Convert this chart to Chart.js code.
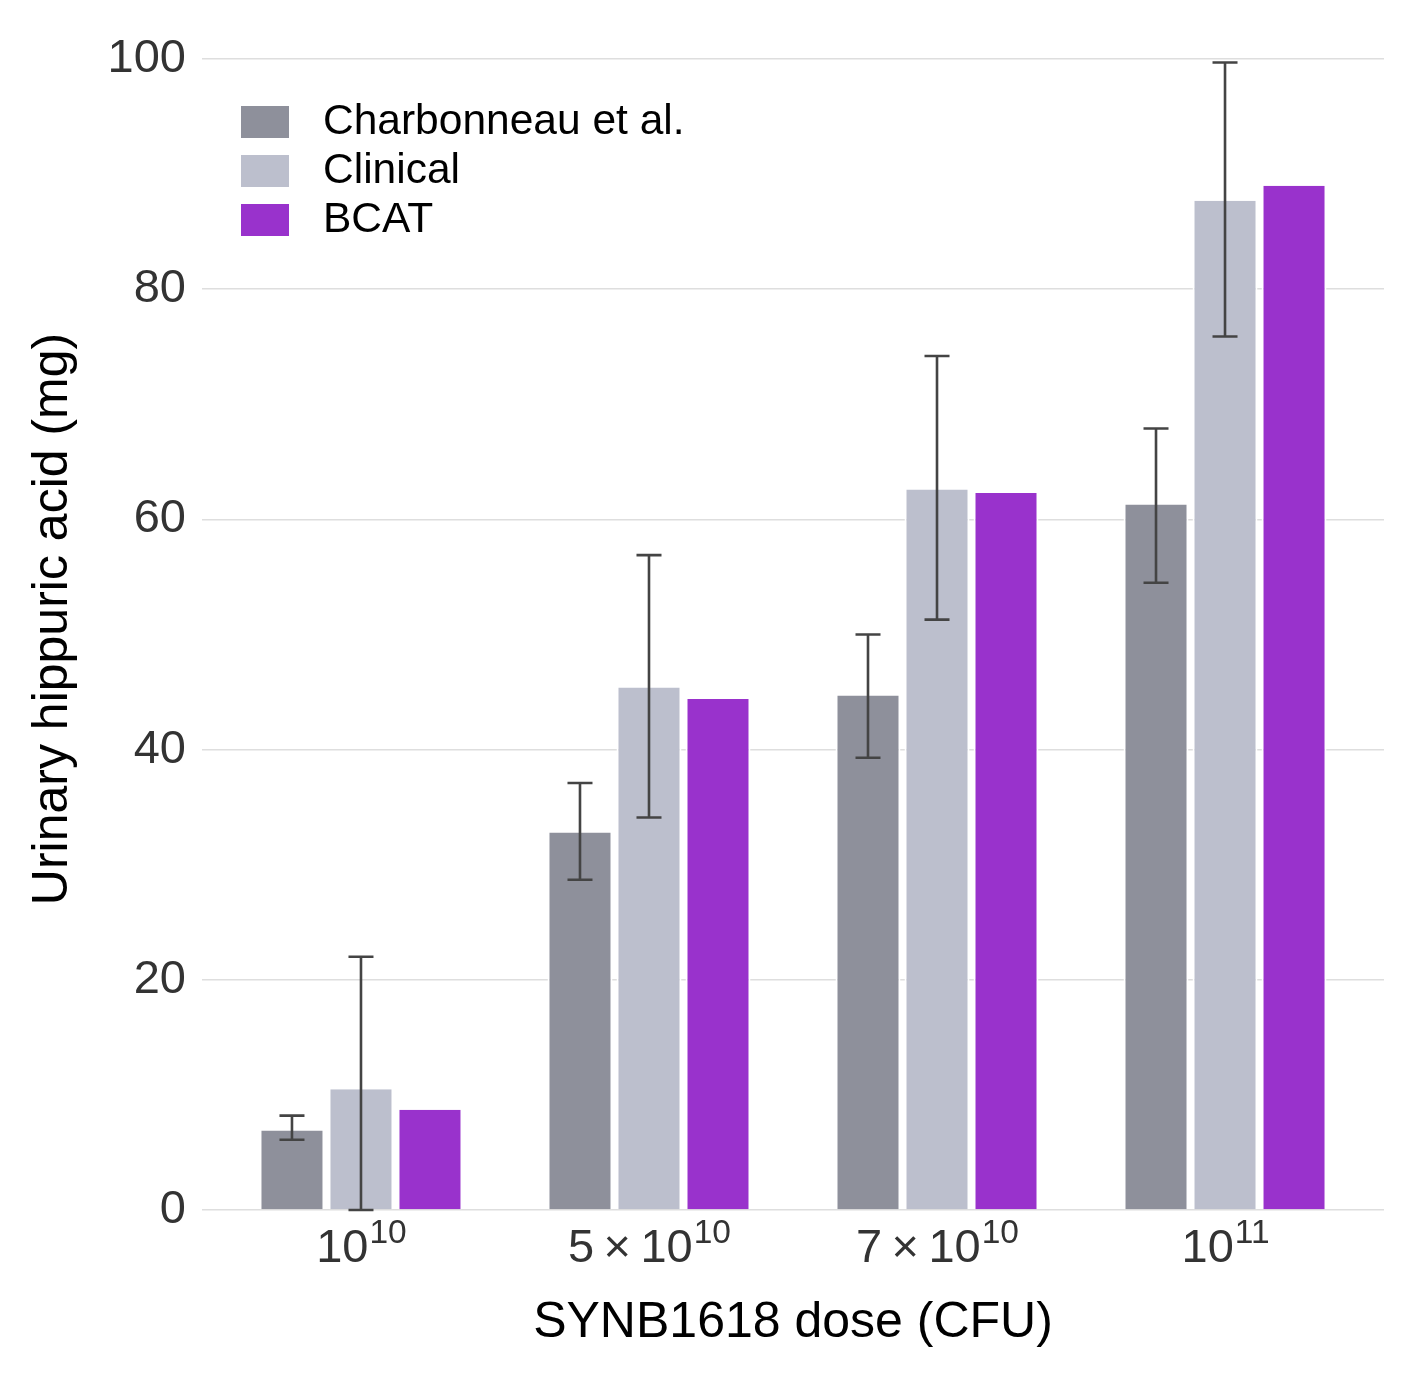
<!DOCTYPE html>
<html>
<head>
<meta charset="utf-8">
<script src="https://cdn.jsdelivr.net/npm/chart.js@4.4.1/dist/chart.umd.min.js"></script>
<style>
  html, body { margin: 0; padding: 0; background: #fff; }
</style>
</head>
<body>
<canvas id="chart" width="1414" height="1385"></canvas>
<script>
// Dosis (posisi kategori) dan label sumbu x: basis + pangkat
var doses = [1, 2, 3, 4];
var doseBase = ['10', '5\u2009\u00d7\u200910', '7\u2009\u00d7\u200910', '10'];
var doseExp = ['10', '10', '10', '11'];

var seriesNames = ['Charbonneau et al.', 'Clinical', 'BCAT'];
var seriesColors = ['#8e909b', '#bcbfcd', '#9932cc'];

// Nilai rata-rata dan batas error bar
var charbonneau = [6.9, 32.8, 44.7, 61.3];
var charbonneauLo = [6.1, 28.7, 39.3, 54.5];
var charbonneauHi = [8.2, 37.1, 50.0, 67.9];

var clinical = [10.5, 45.4, 62.6, 87.7];
var clinicalLo = [0, 34.1, 51.3, 75.9];
var clinicalHi = [22.0, 56.9, 74.2, 99.7];

var bcat = [8.7, 44.4, 62.3, 89.0];

var yTicks = [0, 20, 40, 60, 80, 100];

var FONT = "'Liberation Sans', Arial, sans-serif";
Chart.defaults.font.family = FONT;

function points(vals) {
  return vals.map(function (v, i) { return { x: doses[i], y: v }; });
}

function makeSet(idx, vals, lo, hi) {
  return {
    label: seriesNames[idx],
    data: points(vals),
    backgroundColor: seriesColors[idx],
    borderColor: '#ffffff',
    borderWidth: { left: 2, right: 2, top: 0, bottom: 0 },
    borderSkipped: false,
    categoryPercentage: 0.71875,
    barPercentage: 0.942,
    errLo: lo,
    errHi: hi
  };
}

// Error bar
var errorBars = {
  id: 'errorBars',
  afterDatasetsDraw: function (chart) {
    var ctx = chart.ctx, y = chart.scales.y;
    ctx.save();
    ctx.strokeStyle = '#444444';
    ctx.lineWidth = 2.6;
    chart.data.datasets.forEach(function (ds, i) {
      if (!ds.errLo) return;
      chart.getDatasetMeta(i).data.forEach(function (bar, j) {
        var top = y.getPixelForValue(ds.errHi[j]);
        var bot = y.getPixelForValue(ds.errLo[j]);
        var cap = 12.5;
        ctx.beginPath();
        ctx.moveTo(bar.x, top); ctx.lineTo(bar.x, bot);
        ctx.moveTo(bar.x - cap, top); ctx.lineTo(bar.x + cap, top);
        ctx.moveTo(bar.x - cap, bot); ctx.lineTo(bar.x + cap, bot);
        ctx.stroke();
      });
    });
    ctx.restore();
  }
};

// Label sumbu x dengan pangkat (superscript)
var doseLabels = {
  id: 'doseLabels',
  afterDraw: function (chart) {
    var ctx = chart.ctx, x = chart.scales.x;
    var baseY = chart.chartArea.bottom + 52;
    ctx.save();
    ctx.fillStyle = '#333333';
    ctx.textBaseline = 'alphabetic';
    ctx.textAlign = 'left';
    doses.forEach(function (d, i) {
      var cx = x.getPixelForValue(d);
      ctx.font = '47px ' + FONT;
      var wb = ctx.measureText(doseBase[i]).width;
      ctx.font = '33.5px ' + FONT;
      var we = ctx.measureText(doseExp[i]).width;
      var start = cx - (wb + we) / 2;
      ctx.font = '47px ' + FONT;
      ctx.fillText(doseBase[i], start, baseY);
      ctx.font = '33.5px ' + FONT;
      ctx.fillText(doseExp[i], start + wb + 1, baseY - 19);
    });
    ctx.restore();
  }
};

// Legenda di dalam area plot
var insetLegend = {
  id: 'insetLegend',
  afterDraw: function (chart) {
    var ctx = chart.ctx, area = chart.chartArea;
    var x0 = area.left + 39, y0 = area.top + 78;
    ctx.save();
    ctx.font = '42.5px ' + FONT;
    ctx.textBaseline = 'middle';
    ctx.textAlign = 'left';
    chart.data.datasets.forEach(function (ds, i) {
      var yy = y0 + i * 49;
      ctx.fillStyle = ds.backgroundColor;
      ctx.fillRect(x0, yy, 48, 32);
      ctx.fillStyle = '#000000';
      ctx.fillText(ds.label, x0 + 82, yy + 16);
    });
    ctx.restore();
  }
};

new Chart(document.getElementById('chart'), {
  type: 'bar',
  data: {
    datasets: [
      makeSet(0, charbonneau, charbonneauLo, charbonneauHi),
      makeSet(1, clinical, clinicalLo, clinicalHi),
      makeSet(2, bcat, null, null)
    ]
  },
  options: {
    responsive: false,
    animation: false,
    layout: { padding: { top: 28, right: 30, left: 0, bottom: 0 } },
    plugins: {
      legend: { display: false },
      tooltip: { enabled: false }
    },
    scales: {
      x: {
        type: 'linear',
        offset: false,
        min: 0.448,
        max: 4.552,
        afterBuildTicks: function (s) {
          s.ticks = doses.map(function (v) { return { value: v }; });
        },
        grid: { display: false },
        border: { display: false },
        ticks: { display: false },
        title: {
          display: true,
          text: 'SYNB1618 dose (CFU)',
          color: '#000000',
          font: { size: 50 },
          padding: { top: 0, bottom: 32 }
        },
        afterFit: function (s) {
          s.height = 175;
          s.paddingLeft = 0; s.paddingRight = 0;
        }
      },
      y: {
        min: 0,
        max: 102.7,
        afterBuildTicks: function (s) {
          s.ticks = yTicks.map(function (v) { return { value: v }; });
        },
        grid: { color: '#dedede', lineWidth: 1.6, drawTicks: false },
        border: { display: false },
        ticks: { color: '#333333', font: { size: 47 }, padding: 16 },
        title: {
          display: true,
          text: 'Urinary hippuric acid (mg)',
          color: '#000000',
          font: { size: 50 },
          padding: { top: 23, bottom: 0 }
        },
        afterFit: function (s) {
          s.width = 202;
          s.paddingTop = 0; s.paddingBottom = 0;
        }
      }
    }
  },
  plugins: [errorBars, doseLabels, insetLegend]
});
</script>
</body>
</html>
